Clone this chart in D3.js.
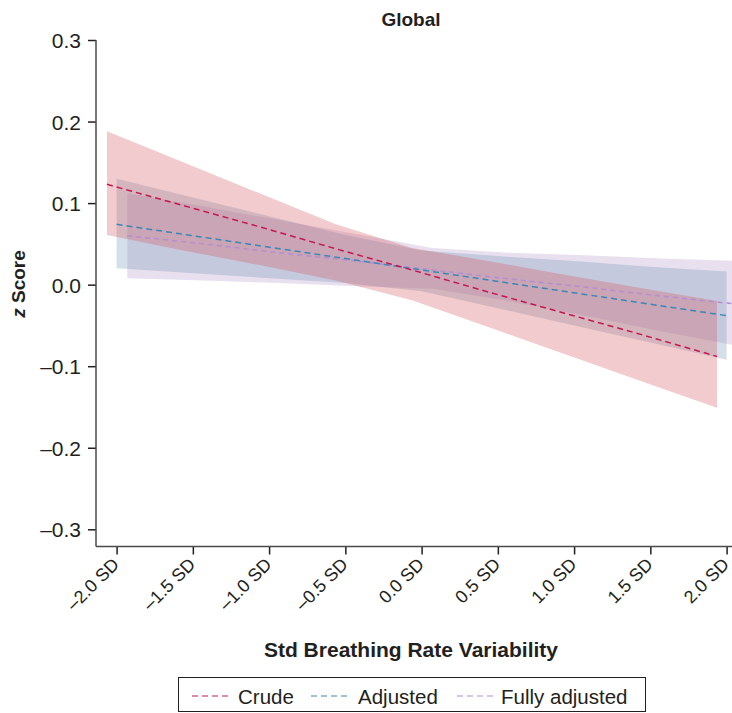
<!DOCTYPE html>
<html>
<head>
<meta charset="utf-8">
<script src="https://cdn.jsdelivr.net/npm/d3@7"></script>
<style>
  body { margin: 0; background: #fff; }
  text { font-family: "Liberation Sans", Arial, sans-serif; fill: #231f20; }
</style>
</head>
<body>
<svg id="chart" width="732" height="713"></svg>
<script>
// x positions (SD units) and tick labels
var sdPoints = [-2, -1.5, -1, -0.5, 0, 0.5, 1, 1.5, 2];
var xTickLabels = ["\u20132.0 SD", "\u20131.5 SD", "\u20131.0 SD", "\u20130.5 SD", "0.0 SD", "0.5 SD", "1.0 SD", "1.5 SD", "2.0 SD"];
var yTicks = [-0.3, -0.2, -0.1, 0, 0.1, 0.2, 0.3];

// series at each SD point
var crudeFit   = [0.123, 0.097, 0.071, 0.044, 0.018, -0.009, -0.035, -0.061, -0.088];
var crudeLow   = [0.061, 0.042, 0.024, 0.005, -0.019, -0.052, -0.085, -0.118, -0.151];
var crudeHigh  = [0.188, 0.150, 0.112, 0.074, 0.045, 0.029, 0.012, -0.004, -0.020];

var adjFit     = [0.074, 0.060, 0.046, 0.032, 0.018, 0.004, -0.010, -0.024, -0.038];
var adjLow     = [0.020, 0.014, 0.008, 0.002, -0.008, -0.029, -0.050, -0.071, -0.092];
var adjHigh    = [0.130, 0.107, 0.084, 0.061, 0.042, 0.035, 0.029, 0.022, 0.016];

var fullFit    = [0.060, 0.050, 0.039, 0.029, 0.018, 0.007, -0.003, -0.014, -0.024];
var fullLow    = [0.008, 0.005, 0.002, -0.002, -0.005, -0.020, -0.038, -0.057, -0.075];
var fullHigh   = [0.112, 0.096, 0.079, 0.062, 0.045, 0.039, 0.036, 0.032, 0.029];

var seriesNames = ["Crude", "Adjusted", "Fully adjusted"];

var svg = d3.select("#chart");
var width = 732;

var x = d3.scaleLinear().domain([-2, 2]).range([116.6, 726.6]);
var y = d3.scaleLinear().domain([-0.3, 0.3]).range([529.3, 40]);
var axisX = 96, axisY = 546.5;

var series = [
  { name: seriesNames[0], fit: crudeFit, low: crudeLow, high: crudeHigh, dodge: -0.063,
    line: "#c8174f", fill: "#d2585e", dash: "6,4" },
  { name: seriesNames[1], fit: adjFit, low: adjLow, high: adjHigh, dodge: 0,
    line: "#3b88b6", fill: "#7698b8", dash: "6,4" },
  { name: seriesNames[2], fit: fullFit, low: fullLow, high: fullHigh, dodge: 0.07,
    line: "#b48ed0", fill: "#b69bcc", dash: "5,4" }
];

var area = d3.area()
  .x(function(d) { return x(d.s); })
  .y0(function(d) { return y(d.lo); })
  .y1(function(d) { return y(d.hi); });

var line = d3.line()
  .x(function(d) { return x(d.s); })
  .y(function(d) { return y(d.v); });

var plot = svg.append("g").attr("class", "plot");

series.forEach(function(sr) {
  sr.pts = sdPoints.map(function(s, i) {
    return { s: s + sr.dodge, lo: sr.low[i], hi: sr.high[i], v: sr.fit[i] };
  });
});

// ribbons: fully adjusted at the back, crude on top
series.slice().reverse().forEach(function(sr) {
  plot.append("path")
    .datum(sr.pts)
    .attr("d", area)
    .attr("fill", sr.fill)
    .attr("fill-opacity", 0.31);
});
// dashed fits
series.slice().reverse().forEach(function(sr) {
  plot.append("path")
    .datum(sr.pts)
    .attr("d", line)
    .attr("fill", "none")
    .attr("stroke", sr.line)
    .attr("stroke-width", 1.5)
    .attr("stroke-dasharray", sr.dash);
});

// y axis
var yAxis = svg.append("g")
  .attr("transform", "translate(" + axisX + ",0)")
  .call(d3.axisLeft(y).tickValues(yTicks).tickSize(8).tickSizeOuter(0)
    .tickFormat(function(d) { return d3.format(".1f")(d).replace("\u2212", "\u2013"); }));
yAxis.select(".domain").remove();
yAxis.selectAll(".tick line").attr("stroke", "#231f20").attr("stroke-width", 1.5);
yAxis.selectAll(".tick text")
  .attr("x", -15)
  .attr("dy", "0.36em")
  .style("font-size", "21px")
  .style("font-family", "Liberation Sans, Arial, sans-serif")
  .attr("fill", "#231f20");

// x axis
var xAxis = svg.append("g")
  .attr("transform", "translate(0," + axisY + ")")
  .call(d3.axisBottom(x).tickValues(sdPoints).tickSize(8).tickSizeOuter(0)
    .tickFormat(function(d, i) { return xTickLabels[i]; }));
xAxis.select(".domain").remove();
xAxis.selectAll(".tick line").attr("stroke", "#231f20").attr("stroke-width", 1.5);
xAxis.selectAll(".tick text")
  .attr("text-anchor", "end")
  .attr("x", 0)
  .attr("y", 0)
  .attr("dy", 0)
  .attr("transform", "translate(3,19) rotate(-45)")
  .style("font-size", "18px")
  .style("font-family", "Liberation Sans, Arial, sans-serif")
  .attr("fill", "#231f20");

// axis lines
svg.append("line")
  .attr("x1", axisX).attr("x2", axisX)
  .attr("y1", y(0.3)).attr("y2", axisY)
  .attr("stroke", "#4a4a4a").attr("stroke-width", 1.5);
svg.append("line")
  .attr("x1", axisX).attr("x2", width)
  .attr("y1", axisY).attr("y2", axisY)
  .attr("stroke", "#4a4a4a").attr("stroke-width", 1.5);

// titles
svg.append("text")
  .attr("x", 411).attr("y", 26)
  .attr("text-anchor", "middle")
  .style("font-size", "19px").style("font-weight", "bold")
  .text("Global");

svg.append("text")
  .attr("x", 411).attr("y", 657)
  .attr("text-anchor", "middle")
  .style("font-size", "21px").style("font-weight", "bold")
  .text("Std Breathing Rate Variability");

var yt = svg.append("text")
  .attr("transform", "translate(25,284) rotate(-90)")
  .attr("text-anchor", "middle")
  .style("font-size", "19px").style("font-weight", "bold");
yt.append("tspan").style("font-style", "italic").text("z");
yt.append("tspan").text(" Score");

// legend
var legend = svg.append("g").attr("class", "legend");
legend.append("rect")
  .attr("x", 178.5).attr("y", 677.5)
  .attr("width", 467).attr("height", 34)
  .attr("fill", "#fff").attr("stroke", "#231f20").attr("stroke-width", 1);

var legendX = [192, 311, 457];
var legendTextX = [238, 358, 501];
series.forEach(function(sr, i) {
  legend.append("line")
    .attr("x1", legendX[i]).attr("x2", legendX[i] + 38)
    .attr("y1", 696).attr("y2", 696)
    .attr("stroke", sr.line).attr("stroke-width", 1.2)
    .attr("stroke-dasharray", "6,4");
  legend.append("text")
    .attr("x", legendTextX[i]).attr("y", 704)
    .style("font-size", "20.5px")
    .text(sr.name);
});
</script>
</body>
</html>
